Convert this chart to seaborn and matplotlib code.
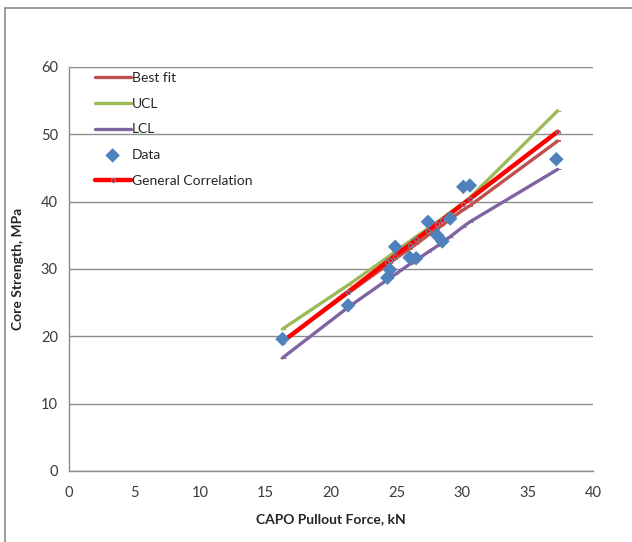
import matplotlib
matplotlib.use("Agg")
import matplotlib.pyplot as plt
import seaborn as sns
import pandas as pd
from matplotlib.patches import Rectangle

# Data
data_x = [16.3, 21.3, 24.3, 24.5, 24.9, 26.0, 26.5, 27.4, 28.1, 28.5, 29.1, 30.1, 30.6, 37.2]
data_y = [19.6, 24.6, 28.7, 29.9, 33.3, 31.7, 31.6, 37.0, 35.0, 34.1, 37.5, 42.2, 42.4, 46.3]

line_x = [16.3, 21.3, 24.3, 24.5, 24.9, 26.0, 26.5, 27.4, 28.1, 28.5, 29.1, 30.1, 30.6, 37.3]
best_fit = [19.3, 26.4, 30.6, 30.9, 31.5, 33.0, 33.7, 35.0, 36.0, 36.5, 37.4, 38.8, 39.4, 49.0]
ucl = [21.1, 27.6, 31.7, 32.0, 32.6, 34.1, 34.8, 36.0, 37.0, 37.5, 38.4, 39.8, 40.6, 53.5]
lcl = [16.8, 24.3, 28.4, 28.7, 29.2, 30.7, 31.3, 32.5, 33.4, 34.0, 34.8, 36.3, 37.0, 44.8]
general = [19.2, 26.6, 31.1, 31.4, 32.0, 33.6, 34.4, 35.7, 36.7, 37.3, 38.2, 39.7, 40.4, 50.4]

x_ticks = [0, 5, 10, 15, 20, 25, 30, 35, 40]
y_ticks = [0, 10, 20, 30, 40, 50, 60]

sns.set_style("white")
plt.rcParams['font.family'] = ['Lato', 'DejaVu Sans']

fig = plt.figure(figsize=(6.32, 5.42), dpi=100)
ax = fig.add_axes([69/632, 1 - 471/542, (593-69)/632, (471-67)/542])

lines_df = pd.DataFrame({"x": line_x, "Best fit": best_fit, "UCL": ucl, "LCL": lcl,
                         "General Correlation": general})

sns.lineplot(data=lines_df, x="x", y="Best fit", ax=ax, color="#C0504D", lw=2.4,
             marker="_", markersize=5, markeredgewidth=1.2, markeredgecolor="#C0504D",
             label="Best fit", zorder=3)
sns.lineplot(data=lines_df, x="x", y="UCL", ax=ax, color="#9BBB59", lw=2.4,
             marker="_", markersize=4, markeredgecolor="#9BBB59", label="UCL", zorder=3)
sns.lineplot(data=lines_df, x="x", y="LCL", ax=ax, color="#8064A2", lw=2.4,
             marker="_", markersize=4, markeredgecolor="#8064A2", label="LCL", zorder=3)
sns.scatterplot(x=data_x, y=data_y, ax=ax, marker="D", s=55, color="#4F81BD",
                edgecolor="none", label="Data", zorder=5)
sns.lineplot(data=lines_df, x="x", y="General Correlation", ax=ax, color="#FF0000", lw=3.2,
             marker="o", markersize=3, markerfacecolor="none", markeredgecolor="#7F7FA0",
             markeredgewidth=0.8, label="General Correlation", zorder=4)

ax.set_xlim(0, 40)
ax.set_ylim(0, 60)
ax.set_xticks(x_ticks)
ax.set_yticks(y_ticks)
ax.grid(axis="y", color="#8C8C8C", lw=1.0)
ax.grid(axis="x", visible=False)
for s in ["top", "right"]:
    ax.spines[s].set_visible(False)
for s in ["left", "bottom"]:
    ax.spines[s].set_color("#8C8C8C")
    ax.spines[s].set_linewidth(1.0)
ax.tick_params(axis="both", direction="out", length=4, width=1, color="#8C8C8C",
               labelsize=10.5, labelcolor="#3A3A3A", pad=4)
ax.tick_params(axis="x", pad=7)
ax.set_xlabel("CAPO Pullout Force, kN", fontsize=10, fontweight="bold", labelpad=9)
ax.set_ylabel("Core Strength, MPa", fontsize=10, fontweight="bold", labelpad=12)

leg = ax.legend(loc="upper left", bbox_to_anchor=(0.025, 1.018), frameon=False,
                fontsize=10, handlelength=2.6, handletextpad=0.1, labelspacing=0.98)

fig.patches.append(Rectangle((5/632, -0.1), 1.2, 1 - 8/542 + 0.1, transform=fig.transFigure,
                             fill=False, edgecolor="#8C8C8C", lw=1.2, clip_on=False))

fig.savefig("out.png", dpi=100)
